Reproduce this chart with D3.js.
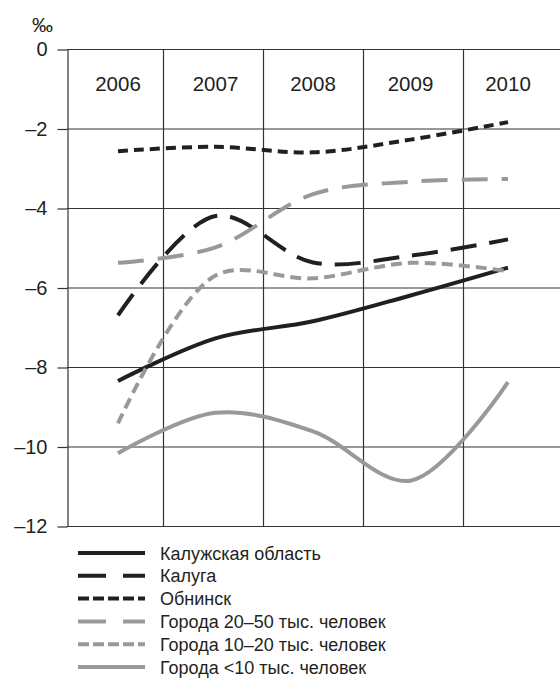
<!DOCTYPE html>
<html>
<head>
<meta charset="utf-8">
<script src="https://cdn.jsdelivr.net/npm/d3@7"></script>
<style>
  body { margin: 0; background: #fff; }
  text { font-family: "Liberation Sans", Arial, sans-serif; fill: #231f20; }
</style>
</head>
<body>
<script>
const years = [2006, 2007, 2008, 2009, 2010];
const yTicks = [0, -2, -4, -6, -8, -10, -12];
const seriesNames = ["Калужская область", "Калуга", "Обнинск",
  "Города 20–50 тыс. человек", "Города 10–20 тыс. человек", "Города <10 тыс. человек"];
const kalugaRegion = [-8.35, -7.28, -6.85, -6.2, -5.5];
const kaluga = [-6.7, -4.2, -5.37, -5.2, -4.79];
const obninsk = [-2.57, -2.46, -2.6, -2.28, -1.84];
const towns20to50 = [-5.38, -4.99, -3.65, -3.34, -3.27];
const towns10to20 = [-9.42, -5.7, -5.77, -5.38, -5.59];
const townsUnder10 = [-10.17, -9.15, -9.62, -10.86, -8.38];

const seriesValues = [kalugaRegion, kaluga, obninsk, towns20to50, towns10to20, townsUnder10];
const black = "#231f20", gray = "#98999c";
const styles = [
  { color: black, dash: null },
  { color: black, dash: "26,13" },
  { color: black, dash: "10,6" },
  { color: gray, dash: "26,14" },
  { color: gray, dash: "11,6" },
  { color: gray, dash: null }
];

const width = 560, height = 681;
const svg = d3.select("body").append("svg")
  .attr("width", width)
  .attr("height", height);

const x = d3.scaleLinear().domain([2006, 2010]).range([118, 508]);
const cols = d3.scaleBand().domain(years).range([63, 563]);
const y = d3.scaleLinear().domain([-12, 0]).range([526, 49]);

// grid
const grid = svg.append("g").attr("stroke", "#333").attr("stroke-width", 1.2);
grid.selectAll(".h").data(yTicks).enter().append("line")
  .attr("x1", 67).attr("x2", width)
  .attr("y1", d => y(d) + 0.5).attr("y2", d => y(d) + 0.5);
grid.selectAll(".v").data(years.slice(1)).enter().append("line")
  .attr("x1", d => cols(d) + 0.5).attr("x2", d => cols(d) + 0.5)
  .attr("y1", y(0)).attr("y2", y(-12));

const fmt = d => d === 0 ? "0" : "–" + Math.abs(d);
const yAxis = svg.append("g")
  .attr("transform", "translate(67.5,0.5)")
  .call(d3.axisLeft(y).tickValues(yTicks).tickSize(10).tickSizeOuter(0).tickPadding(10).tickFormat(fmt));
yAxis.select(".domain").attr("stroke", "#333").attr("stroke-width", 1.2);
yAxis.selectAll(".tick line").attr("stroke", "#333").attr("stroke-width", 1.2);
yAxis.selectAll("text").attr("font-size", 20).attr("fill", black)
  .attr("font-family", "Liberation Sans, Arial, sans-serif");

svg.append("text").attr("x", 32).attr("y", 32).attr("font-size", 21).text("‰");

svg.selectAll(".year").data(years).enter().append("text")
  .attr("x", d => x(d)).attr("y", 91)
  .attr("text-anchor", "middle").attr("font-size", 20.5)
  .text(d => d);

// lines
const line = d3.line()
  .x((d, i) => x(years[i]))
  .y(d => y(d))
  .curve(d3.curveCatmullRom.alpha(0.5));

svg.selectAll(".series").data(seriesValues).enter().append("path")
  .attr("fill", "none")
  .attr("stroke", (d, i) => styles[i].color)
  .attr("stroke-width", 4)
  .attr("stroke-dasharray", (d, i) => styles[i].dash)
  .attr("d", line);

// legend
const legend = svg.selectAll(".leg").data(seriesNames).enter().append("g")
  .attr("transform", (d, i) => `translate(78, ${553 + i * 22.8})`);
legend.append("line")
  .attr("x1", 0).attr("x2", 67).attr("y1", 0).attr("y2", 0)
  .attr("stroke", (d, i) => styles[i].color)
  .attr("stroke-width", 4)
  .attr("stroke-dasharray", (d, i) => styles[i].dash ? (i === 1 || i === 3 ? "28,17" : "11,4") : null);
legend.append("text")
  .attr("x", 82).attr("y", 6.5)
  .attr("font-size", 18)
  .text(d => d);
</script>
</body>
</html>
